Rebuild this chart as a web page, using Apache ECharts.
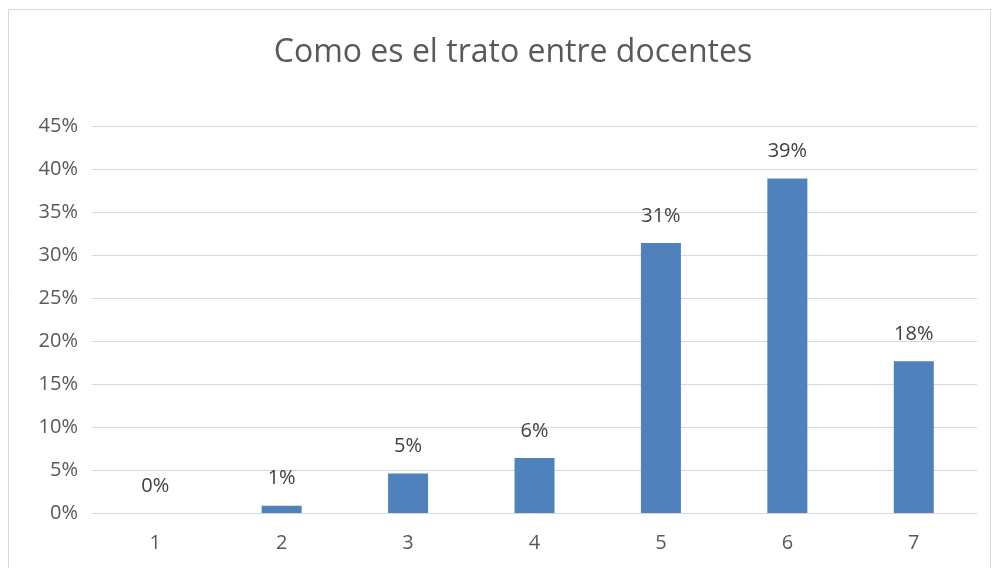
<!DOCTYPE html>
<html><head><meta charset="utf-8">
<script src="https://cdn.jsdelivr.net/npm/echarts@6/dist/echarts.min.js"></script>
<style>html,body{margin:0;padding:0;background:#fff}#c{width:994px;height:568px}</style>
</head><body><div id="c"></div>
<script>
const categories = ['1','2','3','4','5','6','7'];
const values = [0, 0.0085, 0.046, 0.064, 0.314, 0.389, 0.1765];
const titleText = 'Como es el trato entre docentes';

const chart = echarts.init(document.getElementById('c'), null, {renderer:'canvas'});
const font = '"Open Sans", "Liberation Sans", sans-serif';
chart.setOption({
  animation:false,
  backgroundColor:'#fff',
  graphic:[{type:'rect', shape:{x:8.5,y:9.5,width:982,height:580}, style:{fill:'none', stroke:'#D9D9D9', lineWidth:1}}],
  title:{text:titleText, left:508, top:32, textAlign:'center',
    textStyle:{fontFamily:font, fontSize:32, fontWeight:'normal', color:'#595959'}},
  grid:{left:92, right:17, top:126, bottom:55, containLabel:false},
  xAxis:{type:'category', data:categories,
    axisLine:{lineStyle:{color:'#D9D9D9', width:1}}, axisTick:{show:false},
    axisLabel:{fontFamily:font, fontSize:20, color:'#595959', margin:20}},
  yAxis:{type:'value', min:0, max:0.45, interval:0.05,
    axisLine:{show:false}, axisTick:{show:false},
    splitLine:{lineStyle:{color:'#D9D9D9', width:1}},
    axisLabel:{fontFamily:font, fontSize:20, color:'#595959', margin:14,
      formatter:v=>Math.round(v*100)+'%'}},
  series:[{type:'bar', data:values, barWidth:40,
    itemStyle:{color:'#4F81BD'},
    label:{show:true, position:'top', distance:17, fontFamily:font, fontSize:20, color:'#404040',
      formatter:p=>Math.round(p.value*100)+'%'}}]
});
</script></body></html>
